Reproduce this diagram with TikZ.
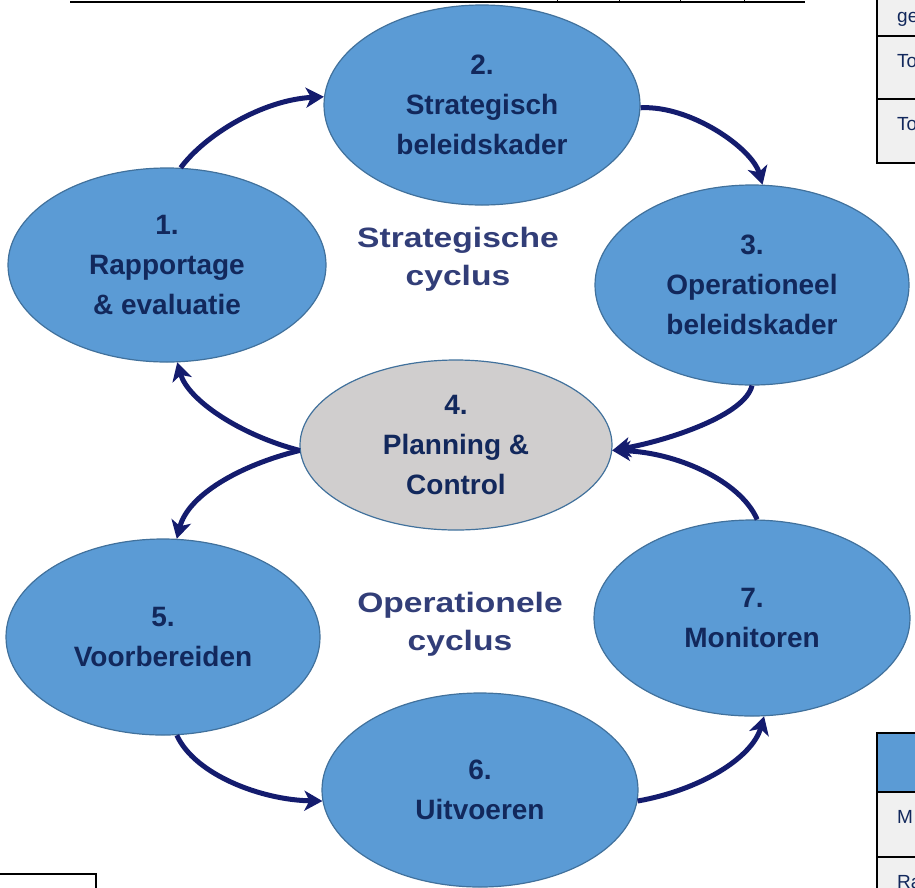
\documentclass[tikz,border=0pt]{standalone}
\usepackage{fontspec}
\setmainfont{Liberation Sans}
\newfontfamily\cyclefont[FakeStretch=1.2]{Liberation Sans}
\usetikzlibrary{shapes.geometric,arrows.meta}
\definecolor{cyclecolor0000}{RGB}{91,155,213}
\definecolor{cyclecolor0001}{RGB}{65,113,156}
\definecolor{cyclecolor0002}{RGB}{18,40,92}
\definecolor{cyclecolor0003}{RGB}{208,206,206}
\definecolor{cyclecolor0004}{RGB}{20,28,110}
\definecolor{cyclecolor0005}{RGB}{50,62,120}
\definecolor{cyclecolor0006}{RGB}{240,240,240}
\begin{document}
\begin{tikzpicture}[x=1pt,y=-1pt
,stepell/.style={ellipse,draw=cyclecolor0001,line width=1.2pt,fill=cyclecolor0000,inner sep=0pt,text=cyclecolor0002,font=\bfseries\fontsize{28}{40}\selectfont,align=center}
,ctrlell/.style={stepell,fill=cyclecolor0003}
,flowarr/.style={draw=cyclecolor0004,line width=5pt,-{Stealth[length=18pt,width=20pt,inset=5pt]}}
,cyclabel/.style={text=cyclecolor0005,font=\cyclefont\bfseries\fontsize{28}{38}\selectfont,align=center}
,tabcell/.style={draw=black,line width=2pt,fill=cyclecolor0006}
,tabhead/.style={draw=black,line width=2pt,fill=cyclecolor0000}
,tabtext/.style={anchor=base west,inner sep=0pt,text=cyclecolor0002,font=\fontsize{19}{23}\selectfont}
]
\useasboundingbox (0,0) rectangle (915,887);
\clip (0,0) rectangle (915,887);
% page rests
\draw[line width=2pt] (70,2) -- (805,2);
\foreach \tx in {557,619,680,744} \draw[line width=1pt] (\tx,0) -- (\tx,2);
\draw[line width=2pt] (0,874) -- (96,874) -- (96,890);
\draw[tabcell] (877,-5) rectangle (930,36);
\draw[tabcell] (877,36) rectangle (930,99);
\draw[tabcell] (877,99) rectangle (930,163);
\node[tabtext] (t1) at (897,22) {ge};
\node[tabtext] (t2) at (897,67) {To};
\node[tabtext] (t3) at (897,130) {To};
\draw[tabhead] (877,733) rectangle (930,792);
\draw[tabcell] (877,792) rectangle (930,857);
\draw[tabcell] (877,857) rectangle (930,900);
\node[tabtext] (t4) at (897,823) {M};
\node[tabtext] (t5) at (897,888) {Ra};
% cycle steps
\node[stepell,minimum width=318pt,minimum height=194pt] (e1) at (167,265) {1.\\Rapportage\\\& evaluatie};
\node[stepell,minimum width=316pt,minimum height=200pt] (e2) at (482,105) {2.\\Strategisch\\beleidskader};
\node[stepell,minimum width=314pt,minimum height=200pt] (e3) at (752,285) {3.\\Operationeel\\beleidskader};
\node[ctrlell,minimum width=312pt,minimum height=170pt] (e4) at (456,445) {4.\\Planning \&\\Control};
\node[stepell,minimum width=314pt,minimum height=196pt] (e5) at (163,637) {5.\\Voorbereiden};
\node[stepell,minimum width=316pt,minimum height=194pt] (e6) at (480,790) {6.\\Uitvoeren};
\node[stepell,minimum width=316pt,minimum height=196pt] (e7) at (752,618) {7.\\Monitoren};
\node[cyclabel] (c1) at (458,259) {Strategische\\cyclus};
\node[cyclabel] (c2) at (460,624) {Operationele\\cyclus};
% arrows
\draw[flowarr] (e1.82) .. controls (205,135) and (262,100) .. (e2.177);
\draw[flowarr] (e2.359) .. controls (690,105) and (752,148) .. (e3.84);
\draw[flowarr] (e3.270) .. controls (745,415) and (670,440) .. (e4.358);
\draw[flowarr] (e7.87) .. controls (740,480) and (675,452) .. (e4.358);
\draw[flowarr] (e4.182) .. controls (240,435) and (188,400) .. (e1.276);
\draw[flowarr] (e4.182) .. controls (240,465) and (188,495) .. (e5.82);
\draw[flowarr] (e5.278) .. controls (195,775) and (262,800) .. (e6.184);
\draw[flowarr] (e6.356) .. controls (700,790) and (752,758) .. (e7.277);
\end{tikzpicture}
\end{document}
